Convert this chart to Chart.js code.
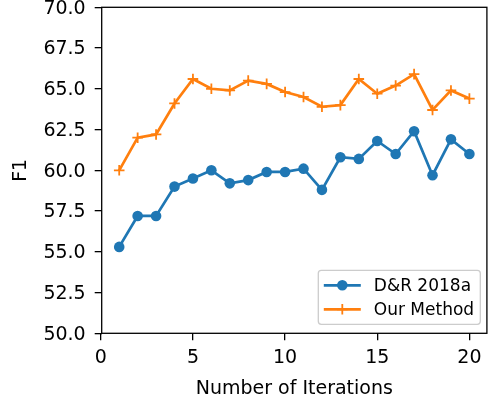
<!DOCTYPE html>
<html>
<head>
<meta charset="utf-8">
<script src="https://cdn.jsdelivr.net/npm/chart.js@4/dist/chart.umd.min.js"></script>
<style>
  html, body { margin: 0; padding: 0; background: #fff; }
  #wrap { width: 494px; height: 400px; position: relative; }
</style>
</head>
<body>
<div id="wrap"><canvas id="c" width="494" height="400"></canvas></div>
<script>
const iterations = [1,2,3,4,5,6,7,8,9,10,11,12,13,14,15,16,17,18,19,20];
const drValues = [55.3,57.2,57.2,59.0,59.5,60.0,59.2,59.4,59.9,59.9,60.1,58.8,60.8,60.7,61.8,61.0,62.4,59.7,61.9,61.0];
const ourValues = [60.0,62.0,62.2,64.1,65.6,65.0,64.9,65.5,65.3,64.8,64.5,63.9,64.0,65.6,64.7,65.2,65.9,63.7,64.9,64.4];
const xTicks = [0,5,10,15,20];
const yTicks = [50,52.5,55,57.5,60,62.5,65,67.5,70];
const seriesLabels = ['D&R 2018a', 'Our Method'];
const xTitle = 'Number of Iterations';
const yTitle = 'F1';

const BLUE = '#1f77b4';
const ORANGE = '#ff7f0e';
const FONT = "'DejaVu Sans', sans-serif";

const framePlugin = {
  id: 'frame',
  afterDatasetsDraw(chart) {
    const a = chart.chartArea, ctx = chart.ctx;
    ctx.save();
    ctx.strokeStyle = '#000';
    ctx.lineWidth = 1.3;
    ctx.strokeRect(a.left, a.top, a.right - a.left, a.bottom - a.top);
    ctx.restore();
  }
};

const legendPlugin = {
  id: 'mplLegend',
  afterDraw(chart) {
    const a = chart.chartArea, ctx = chart.ctx;
    const w = 162, h = 54;
    const x1 = a.right - 6.6 - w, y1 = a.bottom - 9 - h;
    ctx.save();
    const r = 3;
    ctx.beginPath();
    ctx.moveTo(x1 + r, y1);
    ctx.lineTo(x1 + w - r, y1);
    ctx.quadraticCurveTo(x1 + w, y1, x1 + w, y1 + r);
    ctx.lineTo(x1 + w, y1 + h - r);
    ctx.quadraticCurveTo(x1 + w, y1 + h, x1 + w - r, y1 + h);
    ctx.lineTo(x1 + r, y1 + h);
    ctx.quadraticCurveTo(x1, y1 + h, x1, y1 + h - r);
    ctx.lineTo(x1, y1 + r);
    ctx.quadraticCurveTo(x1, y1, x1 + r, y1);
    ctx.closePath();
    ctx.fillStyle = 'rgba(255,255,255,0.8)';
    ctx.fill();
    ctx.strokeStyle = '#cccccc';
    ctx.lineWidth = 1.3;
    ctx.stroke();
    const rows = [y1 + 15, y1 + 39];
    chart.data.datasets.forEach((ds, i) => {
      const y = rows[i];
      ctx.strokeStyle = ds.borderColor;
      ctx.lineWidth = 2.7;
      ctx.beginPath();
      ctx.moveTo(x1 + 5.5, y);
      ctx.lineTo(x1 + 42.5, y);
      ctx.stroke();
      const mx = x1 + 24;
      if (ds.pointStyle === 'circle') {
        ctx.fillStyle = ds.borderColor;
        ctx.beginPath();
        ctx.arc(mx, y, 5.3, 0, Math.PI * 2);
        ctx.fill();
      } else {
        ctx.lineWidth = 1.8;
        ctx.beginPath();
        ctx.moveTo(mx, y - 5.3); ctx.lineTo(mx, y + 5.3);
        ctx.moveTo(mx - 5.3, y); ctx.lineTo(mx + 5.3, y);
        ctx.stroke();
      }
      ctx.fillStyle = '#000';
      ctx.font = "17px " + FONT;
      ctx.textBaseline = 'middle';
      ctx.textAlign = 'left';
      ctx.fillText(ds.label, x1 + 55.5, y + 1);
    });
    ctx.restore();
  }
};

new Chart(document.getElementById('c'), {
  type: 'line',
  data: {
    datasets: [
      {
        label: seriesLabels[0],
        data: iterations.map((x, i) => ({x, y: drValues[i]})),
        borderColor: BLUE,
        backgroundColor: BLUE,
        borderWidth: 2.7,
        pointStyle: 'circle',
        pointRadius: 5.3,
        pointBorderWidth: 0,
        pointBackgroundColor: BLUE,
        pointHoverRadius: 5.3,
        tension: 0,
        fill: false
      },
      {
        label: seriesLabels[1],
        data: iterations.map((x, i) => ({x, y: ourValues[i]})),
        borderColor: ORANGE,
        backgroundColor: ORANGE,
        borderWidth: 2.7,
        pointStyle: 'cross',
        pointRadius: 5.3,
        pointBorderWidth: 1.8,
        pointBorderColor: ORANGE,
        pointHoverRadius: 5.3,
        tension: 0,
        fill: false
      }
    ]
  },
  options: {
    responsive: false,
    animation: false,
    events: [],
    layout: { padding: { top: 7.3, right: 4.7, left: 0, bottom: 0 } },
    plugins: {
      legend: { display: false },
      tooltip: { enabled: false }
    },
    scales: {
      x: {
        type: 'linear',
        min: 0.05,
        max: 20.95,
        afterBuildTicks(scale) { scale.ticks = xTicks.map(v => ({value: v})); },
        afterFit(scale) { scale.height = 66.7; scale.paddingLeft = 0; scale.paddingRight = 0; },
        border: { display: false },
        grid: { display: true, drawOnChartArea: false, drawTicks: true, tickLength: 7, color: '#000', lineWidth: 1.3 },
        ticks: { color: '#000', font: { family: FONT, size: 19 }, padding: 6, maxRotation: 0, autoSkip: false },
        title: { display: true, text: xTitle, color: '#000', font: { family: FONT, size: 19 }, padding: { top: 0, bottom: 0 } }
      },
      y: {
        type: 'linear',
        min: 50,
        max: 70,
        afterBuildTicks(scale) { scale.ticks = yTicks.map(v => ({value: v})); },
        afterFit(scale) { scale.width = 101.7; scale.paddingTop = 0; scale.paddingBottom = 0; },
        border: { display: false },
        grid: { display: true, drawOnChartArea: false, drawTicks: true, tickLength: 7, color: '#000', lineWidth: 1.3 },
        ticks: { color: '#000', font: { family: FONT, size: 19 }, padding: 9, labelOffset: 1.5, autoSkip: false, callback: v => Number(v).toFixed(1) },
        title: { display: true, text: yTitle, color: '#000', font: { family: FONT, size: 19 }, padding: { top: 10, bottom: 0 } }
      }
    }
  },
  plugins: [framePlugin, legendPlugin]
});
</script>
</body>
</html>
